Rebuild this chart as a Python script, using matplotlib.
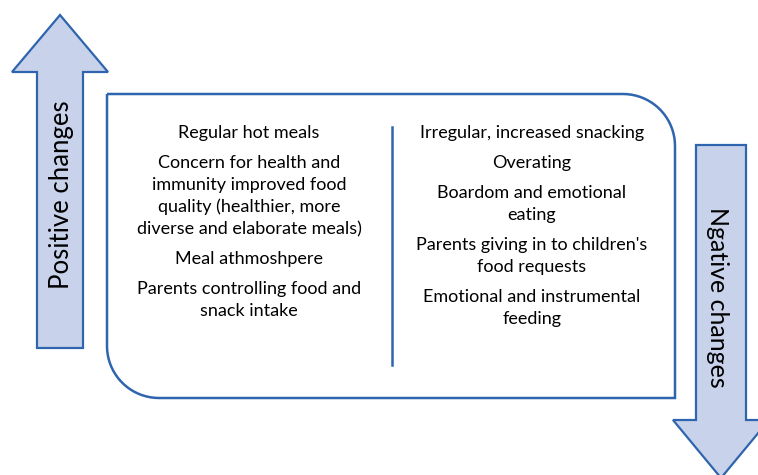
import numpy as np
import matplotlib.pyplot as plt
from matplotlib.patches import Polygon, PathPatch
from matplotlib.path import Path

plt.rcParams['font.family'] = ['Lato', 'DejaVu Sans']

positive_label = "Positive changes"
negative_label = "Ngative changes"

positive_items = [
    ["Regular hot meals"],
    ["Concern for health and", "immunity improved food",
     "quality (healthier, more", "diverse and elaborate meals)"],
    ["Meal athmoshpere"],
    ["Parents controlling food and", "snack intake"],
]
negative_items = [
    ["Irregular, increased snacking"],
    ["Overating"],
    ["Boardom and emotional", "eating"],
    ["Parents giving in to children's", "food requests"],
    ["Emotional and instrumental", "feeding"],
]

edge = "#2f65ae"
fill = "#c8d2ea"

fig = plt.figure(figsize=(7.58, 4.75), dpi=100)
ax = fig.add_axes([0, 0, 1, 1])
ax.set_xlim(0, 758)
ax.set_ylim(475, 0)
ax.axis("off")


def arrow(cx, half_shaft, half_head, tail_y, base_y, tip_y):
    pts = [(cx - half_shaft, tail_y), (cx - half_shaft, base_y), (cx - half_head, base_y),
           (cx, tip_y), (cx + half_head, base_y), (cx + half_shaft, base_y),
           (cx + half_shaft, tail_y)]
    ax.add_patch(Polygon(pts, closed=True, facecolor=fill, edgecolor=edge, lw=1.6))


arrow(60, 23, 48, 348, 72, 15)
arrow(721, 25, 48, 145, 420, 478)

ax.text(61, 195, positive_label, rotation=90, ha="center", va="center", fontsize=18.5)
ax.text(717, 297, negative_label, rotation=-90, ha="center", va="center", fontsize=18)

# main box: sharp top-left / bottom-right, rounded top-right / bottom-left
x0, y0, x1, y1, r = 107, 94, 675, 398, 52
verts = [(x0, y0), (x1 - r, y0)]
t = np.linspace(-np.pi / 2, 0, 20)
verts += [(x1 - r + r * np.cos(a), y0 + r + r * np.sin(a)) for a in t]
verts += [(x1, y1), (x0 + r, y1)]
t = np.linspace(np.pi / 2, np.pi, 20)
verts += [(x0 + r + r * np.cos(a), y1 - r + r * np.sin(a)) for a in t]
verts += [(x0, y0)]
ax.add_patch(PathPatch(Path(verts), facecolor="white", edgecolor=edge, lw=1.8))

ax.plot([392, 392], [127, 365], color=edge, lw=1.8)


def column(items, cx, y):
    for item in items:
        for line in item:
            ax.text(cx, y, line, ha="center", va="center", fontsize=13, color="black")
            y += 22
        y += 8


column(positive_items, 249, 133)
column(negative_items, 532, 133)

fig.savefig("out.png", dpi=100)
